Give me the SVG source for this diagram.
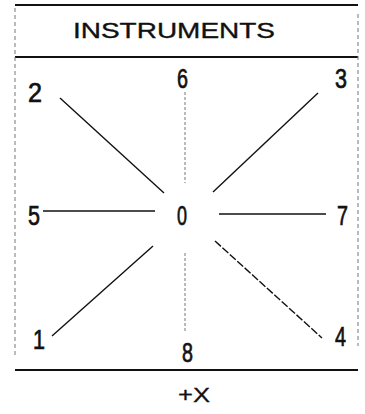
<svg xmlns="http://www.w3.org/2000/svg" width="365" height="414" viewBox="0 0 365 414">
<style>
.bg{fill:#fff}
.rule{stroke:#111;stroke-width:2.2;fill:none}
.frame{stroke:#777;stroke-width:1;stroke-dasharray:4 3;fill:none}
.ray{stroke:#111;stroke-width:1.4;fill:none}
.axis{stroke:#777;stroke-width:1;stroke-dasharray:3 2;fill:none}
.t{font-family:"Liberation Sans",Arial,sans-serif;fill:#111;stroke:#111;stroke-width:0.7}
.d{font-size:27px}
</style>
<rect class="bg" x="0" y="0" width="365" height="414"/>
<g id="frame">
<line class="rule" x1="15" y1="5" x2="358" y2="5"/>
<line class="rule" x1="15" y1="57" x2="358" y2="57"/>
<line class="rule" x1="15" y1="370" x2="358" y2="370"/>
<line class="frame" x1="15" y1="8" x2="15" y2="358"/>
<line class="frame" x1="358" y1="14" x2="358" y2="346"/>
</g>
<g id="title"><text class="t" x="73" y="38" font-size="22" textLength="202" lengthAdjust="spacingAndGlyphs" style="stroke-width:0.35">INSTRUMENTS</text></g>
<g id="connectors">
<line class="ray" x1="60" y1="98" x2="164" y2="193"/>
<line class="axis" x1="185" y1="92" x2="185" y2="183"/>
<line class="ray" x1="318" y1="93" x2="213" y2="192"/>
<line class="ray" x1="43" y1="211" x2="155" y2="211"/>
<line class="ray" x1="219" y1="214" x2="326" y2="214"/>
<line class="ray" x1="52" y1="336" x2="153" y2="246"/>
<line class="axis" x1="185" y1="253" x2="185" y2="333"/>
<line class="ray" x1="215" y1="241" x2="322" y2="338" stroke-dasharray="8 2"/>
</g>
<g id="n2"><text class="t d" x="28" y="102" textLength="14" lengthAdjust="spacingAndGlyphs">2</text></g>
<g id="n6"><text class="t d" x="177" y="88" textLength="11" lengthAdjust="spacingAndGlyphs">6</text></g>
<g id="n3"><text class="t d" x="335" y="88" textLength="12" lengthAdjust="spacingAndGlyphs">3</text></g>
<g id="n5"><text class="t d" x="28" y="225" textLength="12" lengthAdjust="spacingAndGlyphs">5</text></g>
<g id="n0"><text class="t d" x="177" y="225" textLength="10" lengthAdjust="spacingAndGlyphs">0</text></g>
<g id="n7"><text class="t d" x="337" y="225" textLength="11" lengthAdjust="spacingAndGlyphs">7</text></g>
<g id="n1"><text class="t d" x="33" y="349" textLength="12" lengthAdjust="spacingAndGlyphs">1</text></g>
<g id="n8"><text class="t d" x="182" y="362" textLength="11" lengthAdjust="spacingAndGlyphs">8</text></g>
<g id="n4"><text class="t d" x="335" y="346" textLength="11" lengthAdjust="spacingAndGlyphs">4</text></g>
<g id="xlabel"><text class="t" x="178" y="402" font-size="20" textLength="32" lengthAdjust="spacingAndGlyphs" style="stroke-width:0.3">+X</text></g>
</svg>
